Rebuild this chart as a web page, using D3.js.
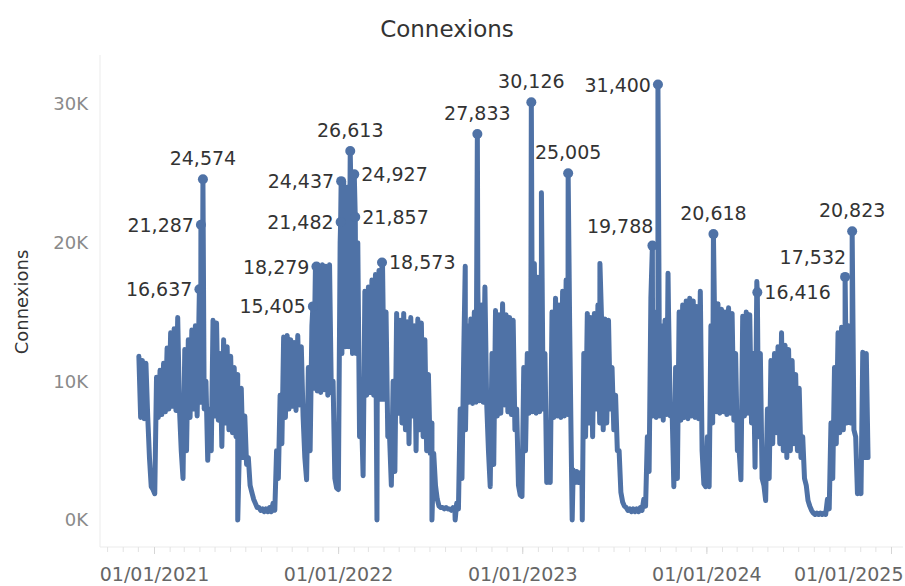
<!DOCTYPE html>
<html>
<head>
<meta charset="utf-8">
<script src="https://cdn.jsdelivr.net/npm/d3@7"></script>
<style>
  body { margin: 0; background: #fff; }
  svg { display: block; font-family: "DejaVu Sans", sans-serif; }
</style>
</head>
<body>
<div id="container"></div>
<script>
/* DATA */
// daily connexions, read week by week: one weekday high and one weekend low per week
const firstWeek = "2020-11-30";
const weekdayHigh = [
  11800, 11500, 11300, 4500, 2200, 10300, 10800, 11300, 12400, 13500,
  13800, 14600, 5000, 12300, 13000, 13700, 14000, 14500, 14000, 10000,
  8000, 14400, 14200, 12000, 13000, 12500, 11800, 11000, 10500, 9500,
  7500, 4500, 2000, 1200, 900, 800, 800, 900, 1200, 5000,
  9000, 13200, 13300, 13000, 12800, 13300, 12500, 4500, 11000, 14000,
  18200, 18300, 18400, 18300, 18400, 10000, 2300, 20000, 24400, 24000,
  24500, 24900, 20000, 8000, 16500, 16800, 17300, 17700, 18000, 18500,
  15000, 6000, 10000, 14900, 14400, 14900, 14300, 14600, 14000, 14500,
  14200, 13000, 10500, 7000, 2500, 1000, 900, 900, 800, 900,
  1200, 8000, 12000, 14000, 14500, 15000, 16500, 15500, 16800, 5000,
  12000, 15100, 14800, 15600, 14800, 14600, 14400, 8000, 1800, 11000,
  12000, 12200, 18500, 17500, 18500, 12000, 6000, 15000, 16000, 15500,
  16500, 17300, 14000, 3600, 3500, 3400, 12000, 14900, 14600, 14900,
  15500, 14800, 14500, 14400, 11000, 9000, 5000, 1300, 900, 800,
  800, 800, 900, 1500, 6000, 16000, 15000, 13000, 14000, 14400,
  15000, 8000, 11000, 15000, 15500, 15800, 16000, 15800, 15400, 16500,
  2600, 6000, 14000, 15300, 15600, 15200, 15000, 15300, 14900, 12000,
  5000, 14700, 15000, 14800, 12000, 17200, 12000, 2500, 8000, 11500,
  12000, 12500, 13500, 12600, 12300, 11500, 10500, 9500, 6000, 2500,
  1000, 500, 500, 500, 500, 1500, 7000, 11000, 13500, 13900,
  13600, 14000, 13500, 6000, 2500, 12100, 12000
];
const weekendLow = [
  7400, 7300, 7500, 2400, 1900, 7400, 7600, 7800, 8000, 8200,
  7900, 8000, 3000, 5000, 7400, 8000, 7500, 8500, 8000, 4300,
  5000, 7500, 7200, 5300, 7000, 6500, 6300, 6000, 5500, 4500,
  4000, 2500, 1500, 900, 700, 600, 600, 600, 700, 3000,
  5500, 7400, 8000, 8200, 7900, 8300, 7500, 2900, 5000, 9500,
  9300, 9200, 9400, 9000, 9200, 3000, 2200, 12000, 12500, 12500,
  12000, 12000, 6000, 3200, 9000, 9200, 9000, 8800, 8700, 8700,
  6000, 2500, 3500, 7700, 7000, 6500, 5500, 7500, 5000, 6500,
  6000, 5000, 4800, 4800, 1500, 900, 800, 800, 700, 700,
  800, 3000, 6500, 8500, 8400, 8500, 8600, 8500, 8400, 2400,
  4000, 7500, 7700, 8300, 7800, 7600, 6500, 2500, 1700, 5000,
  7700, 7800, 7700, 7800, 8000, 2700, 2700, 7400, 7500, 7400,
  7500, 7600, 4000, 2700, 2700, 2500, 6000, 7000, 6000, 8000,
  7000, 6500, 7000, 8000, 6500, 5000, 2000, 1000, 700, 600,
  600, 600, 700, 1000, 3500, 7500, 7400, 7500, 7200, 7600,
  7500, 2400, 3000, 7200, 7400, 7300, 7500, 7400, 7300, 5000,
  2400, 2400, 7000, 7800, 7700, 7800, 7600, 7700, 7200, 5000,
  2900, 7500, 7700, 7000, 3800, 6000, 3000, 1400, 3000, 5500,
  6300, 5500, 5000, 4500, 5000, 5500, 5000, 4500, 3000, 1400,
  700, 400, 400, 400, 400, 800, 3000, 5500, 6300, 6500,
  7000, 7000, 6500, 1900, 1900, 4500, 4500
];

// single days standing out of the weekly band (no label)
const spikeDates = ["2021-06-16", "2022-03-19", "2022-07-06", "2022-08-21", "2022-09-10",
  "2023-02-08", "2023-04-10", "2023-04-30", "2023-06-04", "2023-10-17"];
const spikeValues = [0, 0, 0, 0, 18300, 23600, 0, 0, 18500, 17800];

// labelled peaks
const peakDates = ["2021-04-01", "2021-04-04", "2021-04-08", "2021-11-12", "2021-11-19",
  "2022-01-06", "2022-01-07", "2022-01-25", "2022-02-02", "2022-02-04", "2022-03-29",
  "2022-10-04", "2023-01-19", "2023-04-02", "2023-09-16", "2023-09-27", "2024-01-15",
  "2024-04-11", "2024-10-02", "2024-10-16"];
const peakValues = [16637, 21287, 24574, 15405, 18279, 21482, 24437, 26613, 24927, 21857,
  18573, 27833, 30126, 25005, 19788, 31400, 20618, 16416, 17532, 20823];
// where each label sits around its point
const peakPlacement = ["left", "left", "top", "left", "left", "left", "left", "top", "right", "right",
  "right", "top", "top", "top", "topleft", "left", "top", "right", "topleft", "top"];

const yTicks = [0, 10000, 20000, 30000];
const xTicks = ["2021-01-01", "2022-01-01", "2023-01-01", "2024-01-01", "2025-01-01"];

/* CONSTANTS */
const width = 905, height = 586;
const lineColor = "#4f72a6";
const parse = d3.timeParse("%Y-%m-%d");

const svg = d3.select("#container")
  .append("svg")
  .attr("width", width)
  .attr("height", height);

/* SCALES */
const xScale = d3.scaleTime()
  .domain([parse(xTicks[0]), parse(xTicks[xTicks.length - 1])])
  .range([154, 891]);

const yScale = d3.scaleLinear()
  .domain([0, 30000])
  .range([520, 104]);

/* SERIES */
const weeks = weekdayHigh.map((d, i) => d3.timeDay.offset(parse(firstWeek), i * 7));
let series = [];
weeks.forEach((w, i) => {
  series.push({ date: d3.timeDay.offset(w, 2), value: weekdayHigh[i] });
  series.push({ date: d3.timeHour.offset(w, 5 * 24 + 12), value: weekendLow[i] });
});
spikeDates.forEach((d, i) => series.push({ date: parse(d), value: spikeValues[i] }));
const peaks = peakDates.map((d, i) => ({ date: parse(d), value: peakValues[i], pos: peakPlacement[i] }));
peaks.forEach(p => series.push({ date: p.date, value: p.value }));
series.sort((a, b) => a.date - b.date);

/* AXES */
// light frame lines
svg.append("line")
  .attr("x1", 100).attr("x2", 100)
  .attr("y1", 55).attr("y2", 547)
  .attr("stroke", "#ebebeb");
svg.append("line")
  .attr("x1", 100).attr("x2", 903)
  .attr("y1", 547).attr("y2", 547)
  .attr("stroke", "#ebebeb");

const minorAxis = d3.axisBottom(xScale)
  .ticks(d3.timeMonth.every(1))
  .tickSize(5)
  .tickFormat("");
const minorG = svg.append("g")
  .attr("transform", "translate(0,547)")
  .call(minorAxis);
minorG.select(".domain").remove();
minorG.selectAll(".tick line").attr("stroke", "#e3e3e3");

// extra months before 2021 (the axis starts in autumn 2020)
svg.selectAll("line.early")
  .data(d3.timeMonth.range(parse("2020-10-01"), parse("2021-01-01")))
  .join("line")
  .attr("class", "early")
  .attr("x1", d => xScale(d)).attr("x2", d => xScale(d))
  .attr("y1", 547).attr("y2", 552)
  .attr("stroke", "#e3e3e3");

const xAxis = d3.axisBottom(xScale)
  .tickValues(xTicks.map(parse))
  .tickFormat(d3.timeFormat("%d/%m/%Y"))
  .tickSize(7)
  .tickPadding(14);

const xG = svg.append("g")
  .attr("transform", "translate(0,547)")
  .call(xAxis);
xG.select(".domain").remove();
xG.selectAll(".tick line").attr("stroke", "#d6d6d6");
xG.selectAll(".tick text")
  .attr("font-family", "DejaVu Sans")
  .attr("font-size", "19px")
  .attr("fill", "#666");
// keep last label inside the picture
xG.selectAll(".tick text").each(function (d) {
  const bb = this.getBBox();
  const tx = xScale(d);
  if (tx + bb.width / 2 > 903) {
    d3.select(this).attr("text-anchor", "end").attr("x", 903 - tx);
  }
});

const yAxis = d3.axisLeft(yScale)
  .tickValues(yTicks)
  .tickFormat(d => d / 1000 + "K")
  .tickSize(0)
  .tickPadding(12);

const yG = svg.append("g")
  .attr("transform", "translate(100,0)")
  .call(yAxis);
yG.select(".domain").remove();
yG.selectAll(".tick text")
  .attr("font-family", "DejaVu Sans")
  .attr("font-size", "18px")
  .attr("fill", "#8a8a8a");

/* LINE */
const line = d3.line()
  .x(d => xScale(d.date))
  .y(d => yScale(d.value));

svg.append("path")
  .datum(series)
  .attr("d", line)
  .attr("fill", "none")
  .attr("stroke", lineColor)
  .attr("stroke-width", 5)
  .attr("stroke-linejoin", "round")
  .attr("stroke-linecap", "round");

svg.selectAll("circle.peak")
  .data(peaks)
  .join("circle")
  .attr("class", "peak")
  .attr("cx", d => xScale(d.date))
  .attr("cy", d => yScale(d.value))
  .attr("r", 5)
  .attr("fill", lineColor);

/* LABELS */
const fmt = d3.format(",");
svg.selectAll("text.peak")
  .data(peaks)
  .join("text")
  .attr("class", "peak")
  .attr("font-size", "19px")
  .attr("fill", "#333")
  .attr("x", d => {
    const px = xScale(d.date);
    if (d.pos === "left") return px - 7;
    if (d.pos === "right") return px + 7;
    if (d.pos === "topleft") return px + 1;
    return px;
  })
  .attr("y", d => {
    const py = yScale(d.value);
    if (d.pos === "top") return py - 14;
    if (d.pos === "topleft") return py - 13;
    return py + 7;
  })
  .attr("text-anchor", d => d.pos === "left" || d.pos === "topleft" ? "end" : d.pos === "right" ? "start" : "middle")
  .text(d => fmt(d.value));

/* TITLES */
svg.append("text")
  .attr("x", 447)
  .attr("y", 37)
  .attr("text-anchor", "middle")
  .attr("font-size", "23px")
  .attr("fill", "#333")
  .text("Connexions");

svg.append("text")
  .attr("transform", "translate(28,302) rotate(-90)")
  .attr("text-anchor", "middle")
  .attr("font-size", "18px")
  .attr("fill", "#333")
  .text("Connexions");
</script>
</body>
</html>
